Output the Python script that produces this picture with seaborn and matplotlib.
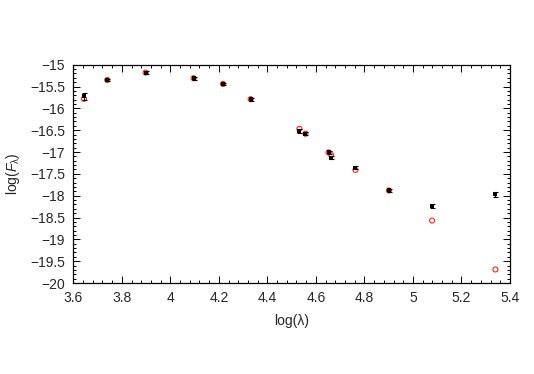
import numpy as np
import pandas as pd
import matplotlib
matplotlib.use("Agg")
import matplotlib.pyplot as plt
import seaborn as sns
from matplotlib.ticker import MultipleLocator, AutoMinorLocator

log_lambda = [3.644, 3.740, 3.898, 4.096, 4.217, 4.331, 4.532, 4.557, 4.652, 4.663, 4.763, 4.901, 5.079, 5.340]
obs_flux = [-15.72, -15.35, -15.18, -15.31, -15.44, -15.79, -16.52, -16.58, -17.01, -17.13, -17.36, -17.88, -18.24, -17.97]
obs_err = [0.08, 0.03, 0.03, 0.03, 0.03, 0.03, 0.04, 0.03, 0.04, 0.04, 0.04, 0.04, 0.05, 0.05]
model_flux = [-15.78, -15.35, -15.18, -15.31, -15.44, -15.79, -16.47, -16.58, -17.01, -17.07, -17.41, -17.88, -18.57, -19.69]

sns.set_style("ticks")
plt.rcParams['font.family'] = ['Liberation Sans', 'DejaVu Sans']
plt.rcParams['mathtext.fontset'] = 'custom'
plt.rcParams['mathtext.it'] = 'Liberation Sans:italic'
plt.rcParams['mathtext.rm'] = 'Liberation Sans'

fig = plt.figure(figsize=(5.34, 3.74), dpi=100)
ax = fig.add_axes([0.1373, 0.2433, 0.8177, 0.5837])

df_obs = pd.DataFrame({"x": log_lambda, "y": obs_flux, "e": obs_err})
df_mod = pd.DataFrame({"x": log_lambda, "y": model_flux})

sns.scatterplot(data=df_mod, x="x", y="y", ax=ax, marker="o", s=13,
                facecolor="none", edgecolor="#ff2020", linewidth=0.8, zorder=2)
ax.errorbar(df_obs["x"], df_obs["y"], yerr=df_obs["e"], fmt="none",
            ecolor="black", elinewidth=0.8, capsize=1.8, capthick=0.8, zorder=3)
sns.scatterplot(data=df_obs, x="x", y="y", ax=ax, marker="s", s=11,
                color="black", edgecolor="black", linewidth=0, zorder=4)

ax.set_xlim(3.6, 5.4)
ax.set_ylim(-20, -15)
ax.xaxis.set_minor_locator(AutoMinorLocator(5))
ax.yaxis.set_minor_locator(AutoMinorLocator(5))
ax.set_xticks(np.arange(3.6, 5.41, 0.2))
ax.set_xticklabels(["3.6", "3.8", "4", "4.2", "4.4", "4.6", "4.8", "5", "5.2", "5.4"])
ax.set_yticks(np.arange(-20, -14.99, 0.5))
ax.set_yticklabels(["\u221220", "\u221219.5", "\u221219", "\u221218.5", "\u221218", "\u221217.5",
                    "\u221217", "\u221216.5", "\u221216", "\u221215.5", "\u221215"])

ax.tick_params(which="both", direction="in", top=True, right=True, labelsize=10, color="black", width=0.7)
ax.tick_params(which="major", length=5, pad=6)
ax.tick_params(which="minor", length=2.5)
for s in ax.spines.values():
    s.set_linewidth(0.9)
    s.set_color("black")

ax.set_xlabel("log(\u03bb)", fontsize=10, labelpad=6)
ax.set_ylabel(r"log($F_{\mathrm{\lambda}}$)", fontsize=10, labelpad=6)

fig.savefig("out.png", dpi=100)
